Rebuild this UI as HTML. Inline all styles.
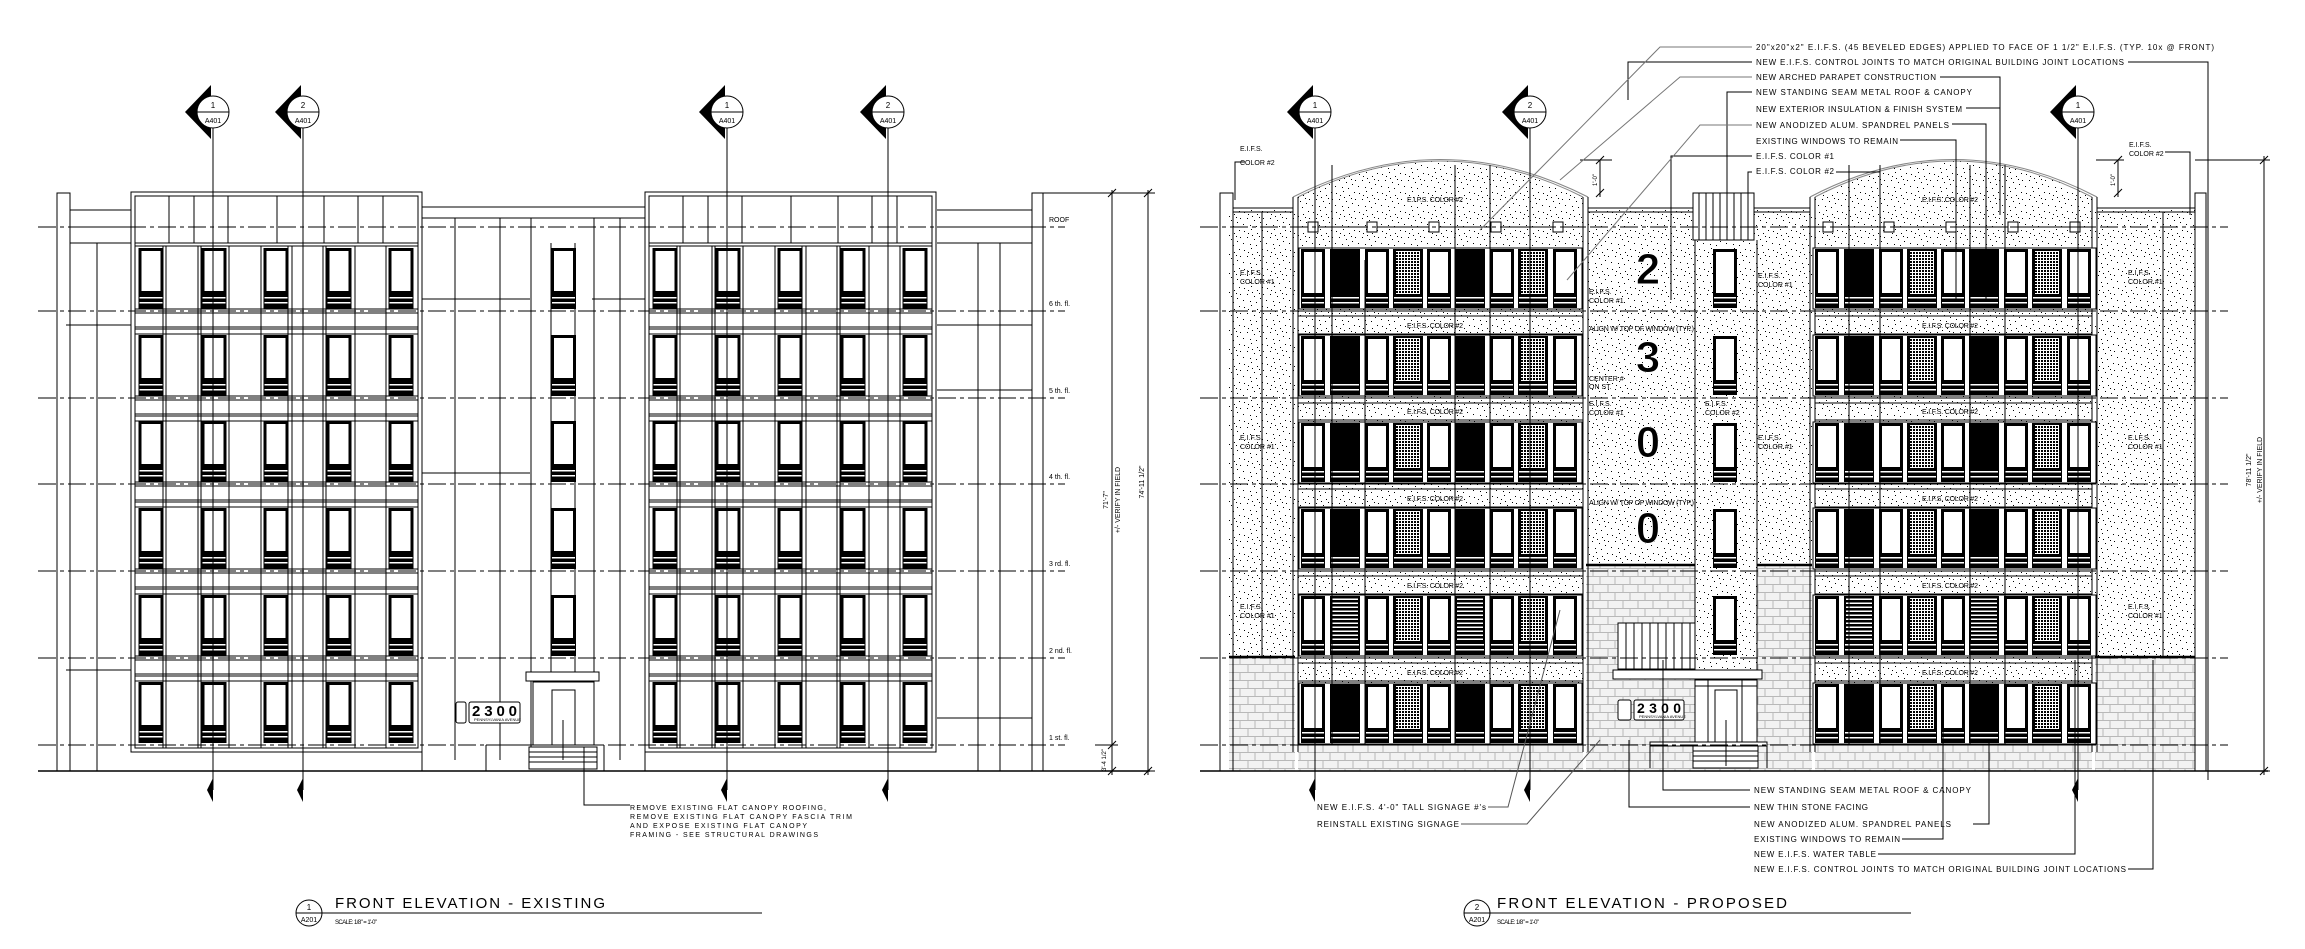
<!DOCTYPE html>
<html><head><meta charset="utf-8"><style>
html,body{margin:0;padding:0;background:#fff}
svg{display:block}
text{font-family:"Liberation Sans",sans-serif;fill:#000}
.n{font-size:8px}
.s{font-size:7px}
</style></head><body>
<svg width="2305" height="949" viewBox="0 0 2305 949" xmlns="http://www.w3.org/2000/svg">
<defs>
<pattern id="st" width="23" height="19" patternUnits="userSpaceOnUse">
<rect width="23" height="19" fill="#fff"/>
<g fill="#000"><rect x="2" y="3" width="1" height="1"/><rect x="9" y="1" width="1" height="1"/><rect x="15" y="5" width="1" height="1"/><rect x="20" y="2" width="1" height="1"/><rect x="5" y="9" width="1" height="1"/><rect x="12" y="11" width="1" height="1"/><rect x="18" y="13" width="1" height="1"/><rect x="1" y="15" width="1" height="1"/><rect x="8" y="16" width="1" height="1"/><rect x="14" y="17" width="1" height="1"/><rect x="21" y="9" width="1" height="1"/><rect x="6" y="5" width="1" height="1"/><rect x="17" y="8" width="1" height="1"/><rect x="10" y="7" width="1" height="1"/></g>
</pattern>
<pattern id="dp" width="3" height="3" patternUnits="userSpaceOnUse"><rect width="3" height="3" fill="#fff"/><rect width="2" height="2" fill="#000"/></pattern>
<pattern id="hs" width="4" height="4" patternUnits="userSpaceOnUse"><rect width="4" height="4" fill="#fff"/><rect width="4" height="2.5" fill="#000"/></pattern>
<pattern id="sp" width="30" height="16" patternUnits="userSpaceOnUse">
<rect width="30" height="16" fill="#f2f2f2"/>
<g stroke="#b8b8b8" stroke-width="1" fill="none"><path d="M0 0.5H30M0 8.5H30M10 0V8M25 0V8M3 8V16M18 8V16"/></g>
</pattern>
<!-- existing window -->
<g id="ew"><rect x="0" y="0" width="25" height="61" fill="#000"/><rect x="3" y="3" width="19" height="40" fill="#fff"/><rect x="1" y="49" width="23" height="1.5" fill="#fff"/><rect x="1" y="54" width="23" height="1.5" fill="#fff"/></g>
<!-- proposed panes -->
<g id="pwv"><rect x="0" y="0" width="24" height="59" fill="#000"/><rect x="3" y="3" width="18" height="41" fill="#fff"/><rect x="1" y="48" width="22" height="1.5" fill="#fff"/><rect x="1" y="53" width="22" height="1.5" fill="#fff"/></g>
<g id="pb"><rect x="0" y="0" width="30" height="59" fill="#000"/><rect x="1" y="48" width="28" height="1.5" fill="#fff"/><rect x="1" y="53" width="28" height="1.5" fill="#fff"/></g>
<g id="pd"><rect x="0" y="0" width="30" height="59" fill="#000"/><rect x="3" y="2" width="24" height="43" fill="url(#dp)"/><rect x="1" y="48" width="28" height="1.5" fill="#fff"/><rect x="1" y="53" width="28" height="1.5" fill="#fff"/></g>
<g id="ph"><rect x="0" y="0" width="30" height="59" fill="#000"/><rect x="2" y="2" width="26" height="43" fill="url(#hs)"/><rect x="1" y="48" width="28" height="1.5" fill="#fff"/><rect x="1" y="53" width="28" height="1.5" fill="#fff"/></g>
<g id="prow"><rect x="4" y="-1" width="283" height="61" fill="#fff" stroke="#000" stroke-width="1"/>
<use href="#pwv" x="6"/><use href="#pb" x="35"/><use href="#pwv" x="70"/><use href="#pd" x="98"/><use href="#pwv" x="132"/><use href="#pb" x="160"/><use href="#pwv" x="195"/><use href="#pd" x="223"/><use href="#pwv" x="258"/></g>
<g id="prowh"><rect x="4" y="-1" width="283" height="61" fill="#fff" stroke="#000" stroke-width="1"/>
<use href="#pwv" x="6"/><use href="#ph" x="35"/><use href="#pwv" x="70"/><use href="#pd" x="98"/><use href="#pwv" x="132"/><use href="#ph" x="160"/><use href="#pwv" x="195"/><use href="#pd" x="223"/><use href="#pwv" x="258"/></g>
<!-- section marker -->
<g id="mk1"><polygon points="-28,0 -2,-27 -2,27" fill="#000"/><circle r="16" fill="#fff" stroke="#000"/><line x1="-16" y1="0" x2="16" y2="0" stroke="#000"/><text x="0" y="-4" font-size="8" text-anchor="middle">1</text><text x="0" y="11" font-size="7" text-anchor="middle">A401</text><line x1="0" y1="16" x2="0" y2="678" stroke="#000"/><polygon points="0,666 -6,678 0,690" fill="#000"/></g>
<g id="mk2"><polygon points="-28,0 -2,-27 -2,27" fill="#000"/><circle r="16" fill="#fff" stroke="#000"/><line x1="-16" y1="0" x2="16" y2="0" stroke="#000"/><text x="0" y="-4" font-size="8" text-anchor="middle">2</text><text x="0" y="11" font-size="7" text-anchor="middle">A401</text><line x1="0" y1="16" x2="0" y2="678" stroke="#000"/><polygon points="0,666 -6,678 0,690" fill="#000"/></g>
<!-- existing bay -->
<g id="ebay" stroke="#000" stroke-width="1" fill="none">
<rect x="131" y="192" width="291" height="560"/><rect x="135" y="196" width="283" height="552"/>
<path d="M169 196V243M194 196V243M228 196V243M277 196V243M324 196V243M358 196V243M383 196V243M135 243H418M135 246H418"/>
<path d="M135 309H418M135 313H418M135 327H418M135 329H418M135 334H418M135 396H418M135 400H418M135 414H418M135 416H418M135 421H418M135 482H418M135 486H418M135 500H418M135 502H418M135 507H418M135 569H418M135 573H418M135 587H418M135 589H418M135 594H418M135 656H418M135 660H418M135 674H418M135 676H418M135 681H418"/>
<path d="M135 246V748M166 246V748M198 246V748M229 246V748M261 246V748M292 246V748M323 246V748M355 246V748M386 246V748M418 246V748"/>
<path d="M163 246V748M201 246V748M288 246V748M326 246V748"/>
</g>
<g id="ewins">
<use href="#ew" x="138.5" y="248"/><use href="#ew" x="201.5" y="248"/><use href="#ew" x="263.5" y="248"/><use href="#ew" x="326.5" y="248"/><use href="#ew" x="388.5" y="248"/>
<use href="#ew" x="138.5" y="335"/><use href="#ew" x="201.5" y="335"/><use href="#ew" x="263.5" y="335"/><use href="#ew" x="326.5" y="335"/><use href="#ew" x="388.5" y="335"/>
<use href="#ew" x="138.5" y="421"/><use href="#ew" x="201.5" y="421"/><use href="#ew" x="263.5" y="421"/><use href="#ew" x="326.5" y="421"/><use href="#ew" x="388.5" y="421"/>
<use href="#ew" x="138.5" y="508"/><use href="#ew" x="201.5" y="508"/><use href="#ew" x="263.5" y="508"/><use href="#ew" x="326.5" y="508"/><use href="#ew" x="388.5" y="508"/>
<use href="#ew" x="138.5" y="595"/><use href="#ew" x="201.5" y="595"/><use href="#ew" x="263.5" y="595"/><use href="#ew" x="326.5" y="595"/><use href="#ew" x="388.5" y="595"/>
<use href="#ew" x="138.5" y="682"/><use href="#ew" x="201.5" y="682"/><use href="#ew" x="263.5" y="682"/><use href="#ew" x="326.5" y="682"/><use href="#ew" x="388.5" y="682"/>
</g>
</defs>

<!-- ================= EXISTING ================= -->
<g stroke="#000" stroke-width="1" fill="none">
<!-- left side -->
<rect x="57" y="193" width="13" height="578"/>
<path d="M70 210H131M70 227H131M70 243H131M66 325H131M66 670H131M97 243V771M70 771H131"/>
<!-- central -->
<path d="M422 207H645M422 218H645M455 218V760M500 218V760M531 218V760M551 243V745M575 243V745M594 218V680M620 218V760M422 299H530M422 473H530M592 299H645M422 752V771M645 752V771"/>
<!-- right side -->
<path d="M937 210H1032M937 227H1032M937 243H1032M937 325H1032M937 390H1032M937 718H1032M978 243V771M1000 243V771M1032 193H1043V771"/>
<rect x="1032" y="193" width="11" height="578"/>
</g>
<use href="#ebay"/><use href="#ebay" x="514"/>
<use href="#ewins"/><use href="#ewins" x="514"/>
<!-- center column windows -->
<g><use href="#ew" x="551" y="248"/><use href="#ew" x="551" y="335"/><use href="#ew" x="551" y="421"/><use href="#ew" x="551" y="508"/><use href="#ew" x="551" y="595"/></g>
<!-- entrance existing -->
<g stroke="#000" fill="#fff">
<rect x="526" y="672" width="73" height="9"/>
<rect x="533" y="682" width="61" height="63"/>
<rect x="552" y="690" width="23" height="55"/>
<rect x="529" y="747" width="68" height="22"/>
<path d="M529 752H597M529 757H597M529 762H597M486 745H604M486 745V771M604 745V771" fill="none"/>
<line x1="563" y1="720" x2="563" y2="760"/>
</g>
<g stroke="#000" fill="#fff"><rect x="456" y="702" width="10" height="21" rx="2"/><rect x="469" y="702" width="51" height="21" rx="2"/></g>
<text x="472" y="716" font-size="15" font-weight="bold" textLength="45">2300</text>
<text x="474" y="721" font-size="4">PENNSYLVANIA AVENUE</text>
<!-- floor lines -->
<g stroke="#000" stroke-width="1" stroke-dasharray="18,4,4,4" fill="none">
<path d="M38 227H1065M38 311H1065M38 398H1065M38 484H1065M38 571H1065M38 658H1065M38 745H1065"/>
</g>
<line x1="38" y1="771" x2="1150" y2="771" stroke="#000" stroke-width="1.5"/>
<g class="s">
<text x="1049" y="222">ROOF</text><text x="1049" y="306">6 th. fl.</text><text x="1049" y="393">5 th. fl.</text><text x="1049" y="479">4 th. fl.</text><text x="1049" y="566">3 rd. fl.</text><text x="1049" y="653">2 nd. fl.</text><text x="1049" y="740">1 st. fl.</text>
</g>
<!-- dims existing -->
<g stroke="#000" fill="none"><path d="M1043 193H1118M1105 193H1155M1112 190V775M1148 190V775M1095 745H1118M1100 771H1155"/>
<path d="M1108 197L1116 189M1108 749L1116 741M1108 775L1116 767M1144 197L1152 189M1144 775L1152 767"/></g>
<text transform="translate(1108,500) rotate(-90)" class="s" text-anchor="middle">71'-7"</text>
<text transform="translate(1120,500) rotate(-90)" class="s" text-anchor="middle">+/- VERIFY IN FIELD</text>
<text transform="translate(1144,482) rotate(-90)" class="s" text-anchor="middle">74'-11 1/2"</text>
<text transform="translate(1106,760) rotate(-90)" font-size="6" text-anchor="middle">3'-4 1/2"</text>
<!-- markers existing -->
<use href="#mk1" x="213" y="112"/><use href="#mk2" x="303" y="112"/><use href="#mk1" x="727" y="112"/><use href="#mk2" x="888" y="112"/>
<!-- note existing -->
<path d="M584 747V805H630" stroke="#000" fill="none"/>
<g class="s"><text x="630" y="810" textLength="196">REMOVE EXISTING FLAT CANOPY ROOFING,</text><text x="630" y="819" textLength="222">REMOVE EXISTING FLAT CANOPY FASCIA TRIM</text><text x="630" y="828" textLength="177">AND EXPOSE EXISTING FLAT CANOPY</text><text x="630" y="837" textLength="188">FRAMING - SEE STRUCTURAL DRAWINGS</text></g>
<!-- title existing -->
<circle cx="309" cy="913" r="13" fill="#fff" stroke="#000"/><line x1="296" y1="913" x2="322" y2="913" stroke="#000"/>
<text x="309" y="910" font-size="8" text-anchor="middle">1</text><text x="309" y="922" font-size="7" text-anchor="middle">A201</text>
<text x="335" y="908" font-size="15" textLength="270">FRONT ELEVATION - EXISTING</text>
<line x1="322" y1="913" x2="762" y2="913" stroke="#000"/>
<text x="335" y="924" font-size="6" textLength="42">SCALE: 1/8" = 1'-0"</text>

<!-- ================= PROPOSED ================= -->
<!-- base fills -->
<rect x="1229" y="208" width="66" height="449" fill="url(#st)"/>
<rect x="1229" y="657" width="66" height="114" fill="url(#sp)"/>
<rect x="2095" y="208" width="100" height="449" fill="url(#st)"/>
<rect x="2095" y="657" width="100" height="114" fill="url(#sp)"/>
<rect x="1586" y="208" width="226" height="357" fill="url(#st)"/>
<rect x="1586" y="565" width="226" height="206" fill="url(#sp)"/>
<rect x="1695" y="240" width="62" height="430" fill="url(#st)"/>
<path d="M1298 197Q1440 125 1583 197V752H1298Z" fill="url(#st)"/>
<path d="M1815 197Q1953 125 2092 197V752H1815Z" fill="url(#st)"/>
<rect x="1298" y="745" width="285" height="26" fill="url(#sp)"/>
<rect x="1815" y="745" width="277" height="26" fill="url(#sp)"/>
<g stroke="#000" fill="none" stroke-width="1">
<path d="M1293 197Q1440 122 1588 197M1298 197Q1440 125 1583 197" stroke="#888"/>
<path d="M1810 197Q1953 122 2097 197M1815 197Q1953 125 2092 197" stroke="#888"/>
<path d="M1293 197V752M1298 197V752M1583 197V752M1588 197V752M1810 197V752M1815 197V752M2092 197V752M2097 197V752"/>
<rect x="1220" y="193" width="13" height="578"/><rect x="2195" y="193" width="11" height="578"/>
<path d="M1233 208H1293M1588 208H1810M2097 208H2195M1233 212H1293M1588 212H1810M2097 212H2195"/>
<path d="M1262 212V657M2163 212V657"/>
<rect x="1693" y="193" width="61" height="47" fill="#fff"/>
<path d="M1699 193V240M1706 193V240M1713 193V240M1720 193V240M1727 193V240M1734 193V240M1741 193V240M1748 193V240"/>
<path d="M1695 240V672M1757 240V672"/>
</g>
<path d="M1229 657H1295M2095 657H2195M1586 565H1695M1757 565H1812" stroke="#000" stroke-width="2.5"/>
<!-- bay band lines -->
<g stroke="#000" fill="none">
<path d="M1298 227H1583M1815 227H2092"/>
<path d="M1298 311H1583M1298 316H1583M1298 334H1583M1298 398H1583M1298 403H1583M1298 420H1583M1298 484H1583M1298 489H1583M1298 507H1583M1298 571H1583M1298 576H1583M1298 594H1583M1298 658H1583M1298 663H1583M1298 681H1583M1298 745H1583"/>
<path d="M1815 311H2092M1815 316H2092M1815 334H2092M1815 398H2092M1815 403H2092M1815 420H2092M1815 484H2092M1815 489H2092M1815 507H2092M1815 571H2092M1815 576H2092M1815 594H2092M1815 658H2092M1815 663H2092M1815 681H2092M1815 745H2092"/>
</g>
<!-- square medallions -->
<g fill="#fff" stroke="#000"><rect x="1308" y="222" width="10" height="10"/><rect x="1367" y="222" width="10" height="10"/><rect x="1429" y="222" width="10" height="10"/><rect x="1491" y="222" width="10" height="10"/><rect x="1553" y="222" width="10" height="10"/>
<rect x="1823" y="222" width="10" height="10"/><rect x="1884" y="222" width="10" height="10"/><rect x="1946" y="222" width="10" height="10"/><rect x="2008" y="222" width="10" height="10"/><rect x="2070" y="222" width="10" height="10"/></g>
<!-- window rows -->
<g>
<use href="#prow" x="1295" y="249"/><use href="#prow" x="1295" y="336"/><use href="#prow" x="1295" y="423"/><use href="#prow" x="1295" y="509"/><use href="#prowh" x="1295" y="596"/><use href="#prow" x="1295" y="684"/>
<use href="#prow" x="1809" y="249"/><use href="#prow" x="1809" y="336"/><use href="#prow" x="1809" y="423"/><use href="#prow" x="1809" y="509"/><use href="#prowh" x="1809" y="596"/><use href="#prow" x="1809" y="684"/>
</g>
<!-- tower windows -->
<g><use href="#pwv" x="1713" y="249"/><use href="#pwv" x="1713" y="336"/><use href="#pwv" x="1713" y="423"/><use href="#pwv" x="1713" y="509"/><use href="#pwv" x="1713" y="596"/></g>
<!-- vertical control joints -->
<g stroke="#000" fill="none"><path d="M1332 165V745M1365 260V745M1455 165V745M1490 165V745M1849 165V745M1880 165V745M1970 165V745M2005 165V745"/></g>
<!-- entrance proposed -->
<g stroke="#000" fill="#fff">
<rect x="1618" y="623" width="77" height="46"/>
<path d="M1626 623V669M1634 623V669M1642 623V669M1650 623V669M1658 623V669M1666 623V669M1674 623V669M1682 623V669M1690 623V669" fill="none"/>
<rect x="1613" y="670" width="149" height="9"/>
<rect x="1695" y="680" width="62" height="62"/>
<rect x="1715" y="690" width="22" height="52"/>
<path d="M1695 686H1757M1708 680V742M1742 680V742" fill="none"/>
<rect x="1650" y="742" width="117" height="4"/>
<rect x="1693" y="746" width="65" height="22"/>
<path d="M1693 751H1758M1693 756H1758M1693 761H1758M1650 746V768M1767 746V768" fill="none"/>
<line x1="1726" y1="720" x2="1726" y2="766"/>
</g>
<g stroke="#000" fill="#fff"><rect x="1618" y="700" width="13" height="20" rx="2"/><rect x="1634" y="700" width="50" height="20" rx="2"/></g>
<text x="1637" y="713" font-size="14" font-weight="bold" textLength="44">2300</text>
<text x="1639" y="718" font-size="4">PENNSYLVANIA AVENUE</text>
<!-- big numbers -->
<g font-size="44" font-weight="bold" text-anchor="middle" stroke="#fff" stroke-width="1">
<text x="1648" y="284">2</text><text x="1648" y="372">3</text><text x="1648" y="457">0</text><text x="1648" y="543">0</text></g>
<!-- floor lines proposed -->
<g stroke="#000" stroke-width="1" stroke-dasharray="18,4,4,4" fill="none">
<path d="M1200 227H2228M1200 311H2228M1200 398H2228M1200 484H2228M1200 571H2228M1200 658H2228M1200 745H2228"/>
</g>
<line x1="1200" y1="771" x2="2268" y2="771" stroke="#000" stroke-width="1.5"/>
<!-- markers proposed -->
<use href="#mk1" x="1315" y="112"/><use href="#mk2" x="1530" y="112"/><use href="#mk1" x="2078" y="112"/>
<!-- dims proposed -->
<g stroke="#000" fill="none"><path d="M2195 160H2270M2264 156V775M2240 771H2270M2260 164L2268 156M2260 775L2268 767"/>
<path d="M1580 160H1612M1600 160V197M1596 164L1604 156M1596 197L1604 189M2096 160H2124M2118 160V197M2114 164L2122 156M2114 197L2122 189"/></g>
<text transform="translate(2251,470) rotate(-90)" class="s" text-anchor="middle">78'-11 1/2"</text>
<text transform="translate(2262,470) rotate(-90)" class="s" text-anchor="middle">+/- VERIFY IN FIELD</text>
<text transform="translate(1597,180) rotate(-90)" font-size="6" text-anchor="middle">1'-0"</text>
<text transform="translate(2115,180) rotate(-90)" font-size="6" text-anchor="middle">1'-0"</text>
<!-- interior labels -->
<g font-size="7">
<text x="1407" y="202" textLength="56">E.I.F.S. COLOR #2</text><text x="1922" y="202" textLength="56">E.I.F.S. COLOR #2</text>
<text x="1407" y="328" textLength="56">E.I.F.S. COLOR #2</text><text x="1922" y="328" textLength="56">E.I.F.S. COLOR #2</text>
<text x="1407" y="414" textLength="56">E.I.F.S. COLOR #2</text><text x="1922" y="414" textLength="56">E.I.F.S. COLOR #2</text>
<text x="1407" y="501" textLength="56">E.I.F.S. COLOR #2</text><text x="1922" y="501" textLength="56">E.I.F.S. COLOR #2</text>
<text x="1407" y="588" textLength="56">E.I.F.S. COLOR #2</text><text x="1922" y="588" textLength="56">E.I.F.S. COLOR #2</text>
<text x="1407" y="675" textLength="56">E.I.F.S. COLOR #2</text><text x="1922" y="675" textLength="56">E.I.F.S. COLOR #2</text>
<text x="1240" y="275">E.I.F.S.</text><text x="1240" y="284">COLOR #1</text>
<text x="1240" y="440">E.I.F.S.</text><text x="1240" y="449">COLOR #1</text>
<text x="1240" y="609">E.I.F.S.</text><text x="1240" y="618">COLOR #1</text>
<text x="2128" y="275">E.I.F.S.</text><text x="2128" y="284">COLOR #1</text>
<text x="2128" y="440">E.I.F.S.</text><text x="2128" y="449">COLOR #1</text>
<text x="2128" y="609">E.I.F.S.</text><text x="2128" y="618">COLOR #1</text>
<text x="1589" y="294">E.I.F.S.</text><text x="1589" y="303">COLOR #1</text>
<text x="1589" y="406">E.I.F.S.</text><text x="1589" y="415">COLOR #1</text>
<text x="1758" y="278">E.I.F.S.</text><text x="1758" y="287">COLOR #1</text>
<text x="1758" y="440">E.I.F.S.</text><text x="1758" y="449">COLOR #1</text>
<text x="1705" y="406">E.I.F.S.</text><text x="1705" y="415">COLOR #2</text>
<text x="1589" y="331" textLength="105">ALIGN W/ TOP OF WINDOW (TYP.)</text>
<text x="1589" y="505" textLength="105">ALIGN W/ TOP OF WINDOW (TYP.)</text>
<text x="1589" y="381">CENTER #</text><text x="1589" y="389">ON ST.</text>
<text x="1240" y="151">E.I.F.S.</text><text x="1240" y="165">COLOR #2</text>
<text x="2129" y="147">E.I.F.S.</text><text x="2129" y="156">COLOR #2</text>
</g>
<!-- top leader notes -->
<g class="n">
<text x="1756" y="50" textLength="458">20"x20"x2" E.I.F.S. (45  BEVELED EDGES) APPLIED TO FACE OF 1 1/2" E.I.F.S. (TYP. 10x @ FRONT)</text>
<text x="1756" y="65" textLength="368">NEW E.I.F.S. CONTROL JOINTS TO MATCH ORIGINAL BUILDING JOINT LOCATIONS</text>
<text x="1756" y="80" textLength="180">NEW ARCHED PARAPET CONSTRUCTION</text>
<text x="1756" y="95" textLength="216">NEW STANDING SEAM METAL ROOF &amp; CANOPY</text>
<text x="1756" y="112" textLength="206">NEW EXTERIOR INSULATION &amp; FINISH SYSTEM</text>
<text x="1756" y="128" textLength="193">NEW ANODIZED ALUM. SPANDREL PANELS</text>
<text x="1756" y="144" textLength="142">EXISTING WINDOWS TO REMAIN</text>
<text x="1756" y="159" textLength="78">E.I.F.S. COLOR #1</text>
<text x="1756" y="174" textLength="78">E.I.F.S. COLOR #2</text>
</g>
<g stroke="#000" fill="none">
<path d="M1752 62H1628V100M2128 62H2208V780"/>
<path d="M1940 77H2000V150"/>
<path d="M1752 92H1727V213"/>
<path d="M1966 108H2000V215"/>
<path d="M1952 124H1986V300"/>
<path d="M1900 140H1956V300"/>
<path d="M1752 156H1671V300"/>
<path d="M1752 172H1748V215"/><path d="M1836 172H1880V215"/>
<path d="M2165 152H2190V215"/>
<path d="M1245 162H1235V200"/>
<path d="M1752 47H1660L1480 230M1752 77H1680L1560 180M1752 125H1700L1567 280" stroke="#777"/>
</g>
<!-- bottom leader notes -->
<g class="n">
<text x="1754" y="793" textLength="217">NEW STANDING SEAM METAL ROOF &amp; CANOPY</text>
<text x="1754" y="810" textLength="114">NEW THIN STONE FACING</text>
<text x="1754" y="827" textLength="197">NEW ANODIZED ALUM. SPANDREL PANELS</text>
<text x="1754" y="842" textLength="146">EXISTING WINDOWS TO REMAIN</text>
<text x="1754" y="857" textLength="122">NEW E.I.F.S. WATER TABLE</text>
<text x="1754" y="872" textLength="372">NEW E.I.F.S. CONTROL JOINTS TO MATCH ORIGINAL BUILDING JOINT LOCATIONS</text>
<text x="1317" y="810" textLength="169">NEW E.I.F.S. 4'-0" TALL SIGNAGE #'s</text>
<text x="1317" y="827" textLength="142">REINSTALL EXISTING SIGNAGE</text>
</g>
<g stroke="#000" fill="none">
<path d="M1750 790H1663V660"/>
<path d="M1750 807H1629V740"/>
<path d="M1973 824H1989V740"/>
<path d="M1902 839H1943V715"/>
<path d="M1878 854H2075V660"/>
<path d="M2128 869H2153V660"/>
<path d="M1488 807H1508L1560 610M1461 824H1527L1600 740" stroke="#555"/>
</g>
<!-- title proposed -->
<circle cx="1477" cy="913" r="13" fill="#fff" stroke="#000"/><line x1="1464" y1="913" x2="1490" y2="913" stroke="#000"/>
<text x="1477" y="910" font-size="8" text-anchor="middle">2</text><text x="1477" y="922" font-size="7" text-anchor="middle">A201</text>
<text x="1497" y="908" font-size="15" textLength="290">FRONT ELEVATION - PROPOSED</text>
<line x1="1490" y1="913" x2="1911" y2="913" stroke="#000"/>
<text x="1497" y="924" font-size="6" textLength="42">SCALE: 1/8" = 1'-0"</text>
</svg>
</body></html>
